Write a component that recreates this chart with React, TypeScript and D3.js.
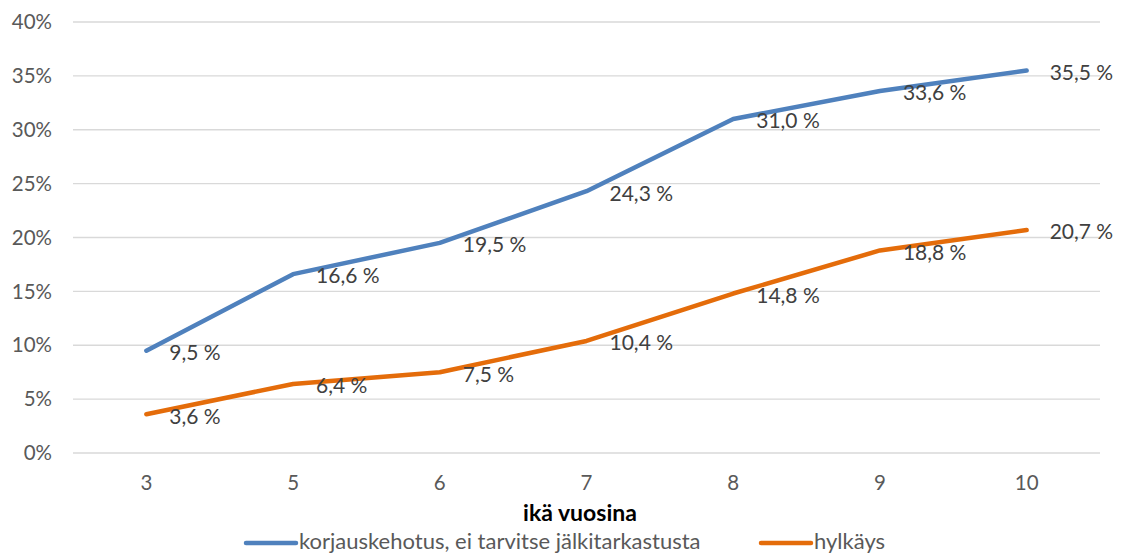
import React from "react";
import * as d3 from "d3";

const categories = ["3", "5", "6", "7", "8", "9", "10"];
const seriesNames = ["korjauskehotus, ei tarvitse jälkitarkastusta", "hylkäys"];
const blueValues = [9.5, 16.6, 19.5, 24.3, 31.0, 33.6, 35.5];
const orangeValues = [3.6, 6.4, 7.5, 10.4, 14.8, 18.8, 20.7];
const yTicks = [0, 5, 10, 15, 20, 25, 30, 35, 40];
const colors = ["#4F81BD", "#E46C0A"];

const W = 1122;
const H = 556;
const FONT = "Lato, 'Open Sans', sans-serif";

export default function App() {
  const x = d3.scaleBand<string>().domain(categories).range([73, 1100]);
  const y = d3.scaleLinear().domain([0, 40]).range([453, 22]);
  const cx = (i: number) => (x(categories[i]) as number) + x.bandwidth() / 2;
  const line = d3
    .line<number>()
    .x((_, i) => cx(i))
    .y((d) => y(d));
  const fmt = (v: number) => v.toFixed(1).replace(".", ",") + " %";
  const series = [blueValues, orangeValues];

  return (
    <svg width={W} height={H} style={{ position: "absolute", left: 0, top: 0, background: "#fff" }} fontFamily={FONT}>
      <rect width={W} height={H} fill="#fff" />
      {yTicks.map((t) => (
        <g key={t}>
          <line x1={73} x2={1100} y1={y(t)} y2={y(t)} stroke="#D9D9D9" strokeWidth={1.3} />
          <text x={52} y={y(t)} dy="0.35em" textAnchor="end" fontSize={20.5} fill="#595959">
            {t}%
          </text>
        </g>
      ))}
      {categories.map((c, i) => (
        <text key={c} x={cx(i)} y={483} dy="0.35em" textAnchor="middle" fontSize={20.5} fill="#595959">
          {c}
        </text>
      ))}
      <text x={580} y={513} dy="0.35em" textAnchor="middle" fontSize={23} fontWeight="bold" fill="#000">
        ikä vuosina
      </text>
      {series.map((vals, si) => (
        <g key={si}>
          <path d={line(vals) || ""} fill="none" stroke={colors[si]} strokeWidth={4.5} strokeLinecap="round" strokeLinejoin="round" />
          {vals.map((v, i) => (
            <text key={i} x={cx(i) + 23} y={y(v) + 2} dy="0.35em" fontSize={21} fill="#404040">
              {fmt(v)}
            </text>
          ))}
        </g>
      ))}
      <g>
        <line x1={246} x2={296} y1={543} y2={543} stroke={colors[0]} strokeWidth={4.5} strokeLinecap="round" />
        <text x={299} y={541} dy="0.35em" fontSize={22} fill="#595959">{seriesNames[0]}</text>
        <line x1={761} x2={811} y1={543} y2={543} stroke={colors[1]} strokeWidth={4.5} strokeLinecap="round" />
        <text x={814} y={541} dy="0.35em" fontSize={22} fill="#595959">{seriesNames[1]}</text>
      </g>
    </svg>
  );
}
